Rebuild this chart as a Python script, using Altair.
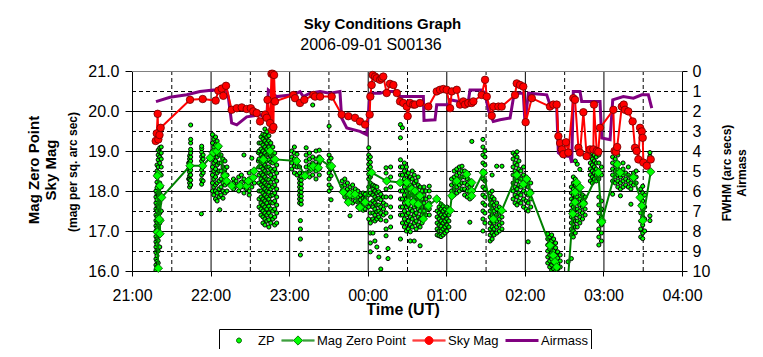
import altair as alt
import pandas as pd

FONT = "Liberation Sans"

# ---------------- data: time in minutes after 21:00 UT ----------------
# Sky Mag (mag per sq. arc sec), read off the red series
sky_pts = [
    (18.1, 19.25), (18.9, 19.44), (19.6, 19.93), (20.1, 19.29), (21.0, 19.40), (21.9, 19.58),
    (44.3, 20.28), (54.0, 20.30), (63.9, 20.26), (65.9, 20.51), (68.5, 20.56), (69.7, 20.38),
    (71.8, 20.63), (76.1, 20.03), (80.0, 20.07), (83.8, 20.09), (87.6, 20.05), (90.7, 20.07),
    (92.6, 19.99), (95.2, 19.95), (97.8, 19.74), (101.6, 19.91), (102.9, 19.83), (103.5, 20.28),
    (105.4, 19.70), (106.5, 20.93), (107.0, 19.53), (107.5, 20.93), (108.0, 19.60), (108.5, 20.90),
    (109.2, 20.24), (123.2, 20.40), (124.5, 20.32), (128.3, 20.20), (131.6, 20.28), (138.5, 20.40),
    (139.8, 20.36), (143.6, 20.36), (152.5, 20.36), (160.1, 19.91), (165.2, 19.87), (170.3, 19.83),
    (174.1, 19.74), (178.0, 19.66), (181.5, 19.91), (182.0, 20.36), (183.0, 20.65), (183.8, 20.90),
    (185.6, 20.86), (186.9, 20.82), (189.4, 20.78), (190.7, 20.82), (191.9, 20.86), (194.5, 20.45),
    (197.0, 20.68), (199.6, 20.65), (202.2, 20.45), (204.7, 20.24), (207.2, 20.20), (209.8, 20.11),
    (210.5, 19.87), (212.3, 20.20), (214.8, 20.16), (216.1, 20.16), (219.9, 20.20), (226.3, 20.11),
    (232.7, 20.49), (235.2, 20.53), (237.7, 20.55), (240.3, 20.53), (242.9, 20.07), (244.2, 20.49),
    (248.0, 20.53), (250.5, 20.16), (253.0, 20.24), (254.3, 20.16), (256.8, 20.20), (259.4, 20.20),
    (260.7, 20.24), (267.0, 20.40), (269.6, 20.78), (270.9, 20.36), (274.7, 19.88), (276.0, 20.11),
    (279.8, 20.11), (282.3, 20.11), (292.5, 20.40), (293.8, 20.69), (296.3, 20.65), (298.8, 20.61),
    (300.6, 19.72), (305.3, 20.32), (319.2, 20.11), (321.7, 20.16), (324.3, 20.16), (325.6, 19.37),
    (326.9, 19.20), (328.2, 19.04), (329.4, 18.92), (331.4, 19.22), (333.2, 18.96), (337.0, 20.32),
    (338.3, 20.28), (340.9, 19.08), (342.1, 18.96), (344.7, 19.97), (347.2, 18.87), (349.8, 19.04),
    (352.3, 19.04), (352.8, 20.16), (354.9, 19.00), (356.1, 18.98), (357.4, 19.58), (367.6, 20.03),
    (368.5, 19.00), (369.5, 18.98), (370.5, 19.10), (374.0, 20.11), (375.5, 20.16), (376.5, 20.03),
    (379.0, 19.99), (382.3, 19.74), (384.1, 19.08), (385.4, 19.00), (386.7, 18.79), (388.0, 19.58),
    (389.3, 19.49), (390.0, 19.33), (390.5, 18.71), (393.1, 18.63), (396.1, 18.79),
]

# Mag Zero Point (green line with diamonds)
mzp_pts = [
    (18.9, 15.90), (20.1, 16.07), (19.3, 16.97), (20.1, 18.42), (19.3, 18.38), (21.4, 18.13),
    (21.4, 17.26), (21.4, 16.93), (20.8, 17.30), (22.7, 17.84), (44.3, 18.63), (54.0, 18.63),
    (59.6, 18.83), (62.1, 18.96), (64.7, 19.00), (65.9, 19.12), (71.0, 18.38), (72.3, 18.25),
    (76.1, 18.13), (82.5, 18.13), (87.6, 18.13), (88.8, 18.25), (92.6, 18.34), (93.2, 18.50),
    (100.3, 18.79), (105.4, 19.00), (109.2, 18.79), (125.8, 18.75), (132.1, 18.38), (137.2, 18.59),
    (138.5, 18.62), (142.3, 18.58), (143.6, 18.79), (151.2, 18.62), (152.5, 18.62), (161.4, 17.97),
    (165.2, 17.72), (166.5, 17.92), (170.3, 17.92), (174.1, 17.59), (178.0, 17.72), (183.0, 18.46),
    (194.5, 18.25), (204.7, 18.21), (209.8, 18.21), (211.0, 17.72), (213.6, 18.05), (214.8, 17.72),
    (216.1, 18.00), (218.6, 17.67), (219.9, 17.88), (222.5, 17.30), (226.3, 17.63), (232.7, 17.80),
    (242.9, 17.51), (244.2, 17.88), (248.0, 18.25), (255.6, 18.42), (259.4, 18.21), (259.4, 18.00),
    (259.4, 17.88), (268.3, 18.46), (275.9, 17.30), (282.3, 17.51), (293.8, 18.40), (298.8, 18.17),
    (301.4, 18.30), (304.0, 17.95), (319.2, 16.64), (321.7, 16.39), (323.0, 16.23), (324.3, 16.10),
    (330.0, 14.50), (336.6, 17.43), (338.3, 17.72), (338.3, 17.97), (339.6, 18.21), (342.1, 18.09),
    (344.7, 17.68), (356.1, 18.46), (358.7, 17.26), (358.7, 17.22), (370.6, 18.67), (372.7, 18.46),
    (382.9, 18.34), (388.0, 17.84), (389.3, 17.63), (390.0, 17.26), (396.1, 18.48),
]

# Airmass (purple line, right axis)
air_pts = [
    (18.3, 1.53), (29.0, 1.31), (41.8, 1.19), (51.9, 1.03), (62.1, 0.95), (72.3, 0.98), (73.5, 1.28),
    (76.1, 2.60), (80.0, 2.69), (87.6, 2.29), (97.8, 2.19), (102.9, 2.35), (104.1, 0.95), (110.5, 1.28),
    (123.2, 1.19), (128.3, 1.03), (130.8, 1.28), (135.9, 1.11), (143.6, 1.03), (151.2, 1.11),
    (158.8, 1.03), (160.1, 2.35), (164.0, 2.85), (174.1, 3.02), (179.2, 3.18), (181.8, 1.11),
    (189.4, 1.11), (194.5, 1.03), (202.2, 1.03), (204.7, 1.28), (222.5, 1.28), (223.0, 2.47),
    (231.4, 2.44), (232.7, 1.69), (241.6, 1.69), (242.9, 1.44), (250.5, 1.54), (256.8, 1.53),
    (258.1, 0.95), (267.1, 0.95), (269.6, 1.11), (272.1, 1.94), (275.9, 2.52), (281.0, 2.44),
    (288.7, 2.35), (291.2, 1.36), (293.8, 1.11), (298.8, 1.11), (300.1, 2.60), (302.7, 1.11),
    (316.7, 1.19), (319.2, 1.69), (324.3, 1.78), (325.6, 4.09), (328.2, 4.23), (334.5, 4.28),
    (335.8, 4.59), (337.0, 1.03), (342.1, 1.03), (343.4, 1.53), (357.4, 1.53), (358.7, 3.35),
    (365.1, 3.43), (367.1, 1.44), (375.2, 1.28), (382.9, 1.36), (389.3, 1.19), (394.3, 1.19),
    (396.9, 1.86),
]

# ZP individual measurements: (minute, [mags])
zp_cols = [
    (18.3, [16.02, 16.15, 16.3, 16.46, 16.6, 16.73, 16.86, 17.0, 17.13, 17.26, 17.4, 17.55, 17.7, 17.85, 18.0]),
    (19.1, [16.1, 16.24, 16.38, 16.52, 16.67, 16.8, 16.95, 17.08, 17.21, 17.35, 17.5, 17.63, 17.78, 17.93, 18.08, 18.22, 18.35, 18.5, 18.65]),
    (20.0, [16.2, 16.5, 16.76, 17.02, 17.3, 17.6, 17.9, 18.15, 18.4, 18.6, 18.78, 18.9, 19.02]),
    (21.2, [16.6, 16.9, 17.2, 17.45, 17.7, 17.95, 18.2, 18.45, 18.7, 18.85, 18.97, 19.08]),
    (22.3, [17.5, 17.8, 18.1, 18.4, 18.6, 18.8, 18.95, 19.1]),
    (43.3, [18.3, 18.55, 18.7]),
    (44.0, [18.1, 18.2, 18.3, 18.38, 18.47, 18.56, 18.64, 18.72, 18.8, 18.88]),
    (44.8, [18.15, 18.27, 18.4, 18.52, 18.63, 18.75, 18.85, 18.95, 19.04, 19.2, 19.29, 19.65]),
    (53.0, [17.43]),
    (53.2, [18.17, 18.28, 18.4, 18.52, 18.63, 18.75, 18.86, 18.97, 19.06, 19.12]),
    (54.3, [18.25, 18.45, 18.6, 18.8, 18.9]),
    (61.5, [18.0, 18.2, 18.4, 18.6, 18.8, 19.0, 19.2, 19.41]),
    (62.5, [17.9, 18.1, 18.3, 18.5, 18.7, 18.9, 19.1, 19.3]),
    (63.8, [17.8, 18.0, 18.15, 18.35, 18.55, 18.75, 18.95, 19.15, 19.35]),
    (65.0, [17.75, 17.95, 18.2, 18.45, 18.65, 18.85, 19.05, 19.25]),
    (66.5, [17.85, 18.05, 18.25, 18.5, 18.7, 18.9, 19.1]),
    (67.0, [17.53]),
    (68.0, [17.9, 18.1, 18.3, 18.5, 18.7, 18.9]),
    (69.5, [17.82, 18.0, 18.2, 18.4, 18.6, 18.8]),
    (71.0, [17.95, 18.15, 18.35, 18.55, 18.75]),
    (72.5, [18.0, 18.2, 18.4, 18.6]),
    (77.5, [18.05, 18.2, 18.3]),
    (79.5, [18.12, 18.25]),
    (81.5, [18.0, 18.15, 18.35]),
    (83.5, [18.1, 18.22, 18.4]),
    (85.5, [17.95, 18.1, 18.3, 18.9]),
    (87.5, [18.05, 18.2]),
    (89.5, [17.9, 18.0, 18.15, 18.3, 18.45]),
    (91.5, [18.1, 18.25, 18.82]),
    (93.5, [18.2, 18.35]),
    (96.5, [18.75, 18.96]),
    (97.0, [17.6, 17.8, 18.0, 18.2, 18.4, 18.6, 18.8, 19.0, 19.2]),
    (98.5, [17.4, 17.55, 17.7, 17.85, 18.0, 18.15, 18.3, 18.45, 18.6, 18.75, 18.9, 19.05, 19.2, 19.35]),
    (100.0, [17.2, 17.35, 17.5, 17.65, 17.8, 17.95, 18.1, 18.25, 18.4, 18.55, 18.7, 18.85, 19.0, 19.15, 19.3, 19.42]),
    (101.5, [17.15, 17.3, 17.45, 17.6, 17.75, 17.9, 18.05, 18.2, 18.35, 18.5, 18.65, 18.8, 18.95, 19.1, 19.25, 19.4, 19.55]),
    (103.0, [17.25, 17.4, 17.55, 17.7, 17.85, 18.0, 18.15, 18.3, 18.45, 18.6, 18.75, 18.9, 19.05, 19.2, 19.35, 19.48]),
    (104.5, [17.1, 17.28, 17.45, 17.62, 17.8, 17.97, 18.12, 18.28, 18.45, 18.6, 18.78, 18.93, 19.1, 19.25, 19.38]),
    (106.0, [17.2, 17.38, 17.55, 17.72, 17.88, 18.05, 18.22, 18.4, 18.55, 18.72, 18.88, 19.05, 19.2]),
    (107.5, [17.3, 17.5, 17.7, 17.9, 18.1, 18.3, 18.5, 18.7, 18.9, 19.1]),
    (109.0, [17.15, 17.35, 17.55, 17.75, 17.95, 18.15, 18.35, 18.55, 18.75, 18.95]),
    (110.5, [17.2, 17.45, 17.65, 17.85, 18.05, 18.25, 18.45, 18.65]),
    (122.0, [18.55, 18.7, 18.85, 19.0]),
    (124.0, [18.45, 18.62, 18.8, 18.95, 19.1]),
    (126.0, [18.4, 18.6, 18.78, 18.92]),
    (128.0, [17.7, 17.8, 17.9, 18.0, 18.1, 18.2, 18.3, 18.45, 18.6]),
    (128.6, [17.26, 17.05, 16.8, 16.4]),
    (129.2, [17.67, 17.77, 17.87, 17.97, 18.07, 18.17, 18.27, 18.37]),
    (133.0, [18.45, 18.6, 18.75, 18.9, 19.08]),
    (135.5, [18.35, 18.5, 18.65, 18.8, 18.95]),
    (138.0, [18.4, 18.55, 18.7, 18.85, 20.15]),
    (140.5, [18.3, 18.5, 18.65, 18.8, 19.0]),
    (143.0, [18.4, 18.55, 18.7, 18.85, 19.02]),
    (150.5, [18.0, 18.15, 18.3, 18.45, 18.6, 18.75, 18.9, 19.62]),
    (152.0, [17.78, 18.08, 18.38, 18.55, 18.82]),
    (160.5, [18.0, 18.12, 18.25]),
    (162.5, [17.85, 18.0, 18.15, 18.3]),
    (164.5, [17.75, 17.9, 18.05, 18.2]),
    (166.5, [17.38, 17.8, 17.95, 18.1]),
    (168.5, [17.7, 17.85, 18.0, 18.15]),
    (170.5, [17.75, 17.9, 18.05]),
    (172.5, [17.6, 17.72, 17.85, 18.0]),
    (174.5, [17.55, 17.65, 17.78, 17.9]),
    (176.5, [17.52, 17.62, 17.72, 17.82, 17.95]),
    (178.0, [17.55, 17.68, 17.8, 17.92]),
    (180.8, [17.3, 17.6, 17.9, 18.1, 18.3, 18.42, 18.55, 18.67, 18.8, 18.9, 19.08]),
    (182.0, [16.48, 16.7, 16.95, 17.2, 17.45, 17.7, 17.95, 18.2, 18.35, 18.48, 18.6, 18.72, 18.85]),
    (184.0, [16.95, 17.3, 17.45, 17.6, 17.75, 17.9, 18.05, 18.15]),
    (185.5, [16.75, 17.25, 17.4, 17.55, 17.7, 17.85, 18.0, 18.12]),
    (187.0, [16.6, 17.3, 17.48, 17.65, 17.8, 17.95, 18.1]),
    (188.5, [16.35, 17.35, 17.5, 17.65, 17.82, 17.98]),
    (190.0, [16.05, 17.28, 17.45, 17.6, 17.78, 17.92]),
    (192.0, [17.4, 17.55, 17.7, 17.85]),
    (194.0, [16.88, 17.05, 17.25, 17.45, 17.65, 17.85, 18.05, 18.25, 18.45, 18.58]),
    (195.5, [16.31, 16.56]),
    (197.5, [17.1, 17.35, 17.6, 17.85, 18.1, 18.35, 18.6]),
    (205.0, [16.8, 17.4, 17.6, 17.8, 18.0, 18.2, 18.4, 18.6, 18.78, 19.33, 19.66]),
    (206.5, [17.2, 17.4, 17.6, 17.8, 18.0, 18.2, 18.4, 18.6, 19.58]),
    (208.0, [17.1, 17.3, 17.5, 17.7, 17.9, 18.1, 18.3, 18.5, 18.7]),
    (209.5, [17.0, 17.2, 17.4, 17.6, 17.8, 18.0, 18.2, 18.4, 18.6]),
    (211.0, [17.05, 17.25, 17.45, 17.65, 17.85, 18.05, 18.25, 18.45]),
    (212.5, [16.75, 16.98, 17.15, 17.35, 17.55, 17.75, 17.95, 18.15, 18.35]),
    (214.0, [17.1, 17.3, 17.5, 17.7, 17.9, 18.1, 18.3, 18.5]),
    (215.5, [16.75, 17.2, 17.4, 17.6, 17.8, 18.0, 18.2, 18.4]),
    (217.0, [17.05, 17.25, 17.45, 17.65, 17.85, 18.05, 18.25]),
    (218.5, [17.15, 17.35, 17.55, 17.75, 17.95, 18.15, 18.35]),
    (220.0, [16.63, 17.1, 17.3, 17.5, 17.7, 17.9, 18.1]),
    (221.5, [17.2, 17.4, 17.6, 17.8, 18.0]),
    (223.0, [17.3, 17.5, 17.7, 17.9, 18.1]),
    (224.5, [17.4, 17.6, 17.8, 18.0]),
    (227.0, [17.4, 17.55, 17.7, 17.85, 18.0, 18.12]),
    (233.0, [16.9, 17.05, 17.2, 17.35, 17.5]),
    (234.5, [16.88, 17.0, 17.15, 17.3, 17.45, 17.6]),
    (236.0, [16.86, 17.0, 17.12, 17.25, 17.4, 17.55, 17.67]),
    (237.5, [16.9, 17.05, 17.2, 17.35, 17.5, 17.62]),
    (239.0, [16.95, 17.1, 17.25, 17.4, 17.55]),
    (240.5, [17.0, 17.15, 17.3, 17.45, 17.6]),
    (242.0, [17.1, 17.25, 17.4, 17.55]),
    (244.0, [17.85, 18.0, 18.15, 18.3]),
    (246.0, [17.9, 18.05, 18.2, 18.35, 18.5]),
    (248.0, [17.95, 18.1, 18.25, 18.4, 18.55]),
    (250.0, [18.0, 18.15, 18.3, 18.45, 18.6]),
    (252.0, [18.05, 18.2, 18.35, 18.5, 18.62]),
    (254.0, [17.9, 18.05, 18.2, 18.35, 18.5]),
    (256.0, [17.85, 18.0, 18.15, 18.3, 18.45]),
    (258.0, [17.22, 17.8, 17.95, 18.1, 18.25]),
    (259.5, [17.85, 18.0, 18.15, 19.24]),
    (268.0, [17.0, 17.3, 17.5, 17.7, 17.9, 18.1, 18.3, 18.5, 18.7, 18.9, 19.1, 19.29]),
    (269.5, [17.2, 17.45, 17.65, 17.85, 18.05, 18.25, 18.45, 18.65, 18.85, 19.0]),
    (273.5, [16.75, 16.9, 17.05, 17.2, 17.35, 17.5, 17.65, 17.8, 17.95]),
    (275.0, [16.8, 16.95, 17.1, 17.25, 17.4, 17.55, 17.7, 17.85, 18.0, 18.4]),
    (276.5, [16.9, 17.05, 17.2, 17.35, 17.5, 17.65, 17.8]),
    (278.5, [16.95, 17.1, 17.25, 17.4, 17.55, 17.7, 18.62]),
    (280.5, [17.0, 17.15, 17.3, 17.45, 17.6]),
    (282.5, [17.05, 17.2, 17.35, 17.5, 18.62]),
    (291.0, [17.8, 18.0, 18.2, 18.4, 18.6, 18.8, 18.95]),
    (292.5, [17.7, 17.9, 18.1, 18.3, 18.5, 18.7, 18.9]),
    (294.0, [17.65, 17.85, 18.05, 18.25, 18.45, 18.65, 18.85, 18.98]),
    (295.5, [17.75, 17.95, 18.15, 18.35, 18.55, 18.75]),
    (297.0, [17.7, 17.9, 18.1, 18.3, 18.5]),
    (299.0, [17.6, 17.8, 18.0, 18.2, 18.4, 18.6]),
    (301.0, [17.55, 17.75, 17.95, 18.15, 18.35]),
    (302.5, [16.73, 17.5, 17.7, 17.9, 18.1, 18.3]),
    (304.5, [17.6, 17.8, 18.0, 18.2]),
    (317.5, [16.2, 16.35, 16.5, 16.65, 16.8, 16.93]),
    (319.0, [16.1, 16.25, 16.4, 16.55, 16.7, 16.85]),
    (320.5, [16.02, 16.15, 16.3, 16.45, 16.6, 16.75, 16.9]),
    (322.0, [16.05, 16.2, 16.35, 16.5, 16.65, 16.8]),
    (323.5, [16.0, 16.12, 16.28, 16.42, 16.58, 16.7]),
    (325.0, [16.05, 16.18, 16.32, 16.48]),
    (327.0, [16.1, 16.25, 16.4]),
    (333.0, [16.23]),
    (335.5, [16.31, 16.9, 17.05, 17.2, 17.35, 17.5, 17.65, 17.8, 17.95, 18.1]),
    (337.0, [16.85, 17.0, 17.15, 17.3, 17.45, 17.6, 17.75, 17.9, 18.05, 18.2, 18.35]),
    (338.5, [16.95, 17.1, 17.25, 17.4, 17.55, 17.7, 17.85, 18.0, 18.15, 18.3, 18.75]),
    (340.0, [17.1, 17.25, 17.4, 17.55, 17.7, 17.85, 18.0, 18.15, 18.67]),
    (342.0, [17.2, 17.35, 17.5, 17.65, 17.8, 17.95, 18.1, 18.54]),
    (344.0, [17.3, 17.45, 17.6, 17.75, 17.9]),
    (346.0, [17.4, 17.55, 17.7, 17.85]),
    (350.0, [18.25, 18.4, 18.55, 18.7, 18.85, 19.0]),
    (351.5, [18.2, 18.35, 18.5, 18.65, 18.8, 18.95]),
    (353.0, [18.3, 18.45, 18.6, 18.75, 18.9, 19.04]),
    (354.5, [18.25, 18.4, 18.55, 18.7, 18.85]),
    (356.5, [16.65, 16.85, 17.05, 17.25, 17.45, 17.65, 17.85, 18.3, 18.5, 18.7, 18.9]),
    (358.5, [16.75, 16.95, 17.15, 17.35, 17.55, 17.75, 18.4, 18.6]),
    (367.0, [17.92, 18.25, 18.4, 18.55, 18.7, 18.85]),
    (369.0, [18.2, 18.35, 18.5, 18.65, 18.8]),
    (371.0, [18.1, 18.25, 18.4, 18.55, 18.7, 18.9]),
    (373.0, [17.88, 18.05, 18.2, 18.35, 18.5]),
    (375.0, [18.1, 18.25, 18.4, 18.55, 18.7]),
    (377.0, [18.15, 18.3, 18.45]),
    (379.0, [18.1, 18.25, 18.4, 18.6]),
    (381.0, [17.67, 18.05, 18.2, 18.35]),
    (383.0, [18.15, 18.3, 18.45]),
    (385.0, [18.2, 18.35, 18.5]),
    (388.5, [16.85, 17.05, 17.25, 17.45, 17.65, 17.85, 18.05]),
    (390.0, [16.81, 16.95, 17.15, 17.35, 17.55, 17.75, 17.95, 18.12]),
    (391.5, [17.0, 17.3, 17.6, 17.9]),
    (395.5, [17.26, 17.38, 18.87, 18.96]),
]

hour_ticks = [0, 60, 120, 180, 240, 300, 360, 420]
grid_major_x = [60, 120, 180, 240, 300, 360]
grid_minor_x = [30, 90, 150, 210, 270, 330, 390]
grid_major_y = [17, 18, 19, 20]
grid_minor_y = [16.5, 17.5, 18.5, 19.5, 20.5]
grid_top_y = [21]
mag_ticks = [16, 17, 18, 19, 20, 21]
right_ticks = [0, 1, 2, 3, 4, 5, 6, 7, 8, 9, 10]
series_names = ["ZP", "Mag Zero Point", "Sky Mag", "Airmass"]

title_text = "Sky Conditions Graph"
subtitle_text = "2006-09-01 S00136"
x_title = "Time (UT)"
left_titles = ["Mag Zero Point", "Sky Mag", "(mag per sq. arc sec)"]
right_titles = ["FWHM (arc secs)", "Airmass"]

# ---------------- frames ----------------
def pairs_df(pairs):
    return pd.DataFrame({"m": [p[0] for p in pairs], "v": [p[1] for p in pairs],
                         "i": list(range(len(pairs)))})

sky_df = pairs_df(sky_pts)
mzp_df = pairs_df(mzp_pts)
air_df = pairs_df(air_pts)
zp_df = pd.DataFrame([(m, v) for m, vs in zp_cols for v in vs], columns=["m", "v"])

# ---------------- scales / axes ----------------
x_scale = alt.Scale(domain=[0, 420], nice=False, zero=False)
x_axis = alt.Axis(values=hour_ticks,
                  labelExpr="format((21 + datum.value / 60) % 24, '02d') + ':00'",
                  title=None, grid=False, tickSize=5, labelPadding=11, labelFlush=False)
mag_scale = alt.Scale(domain=[16, 21], nice=False, zero=False)
mag_axis = alt.Axis(orient="left", values=mag_ticks, format=".1f", title=None, grid=False,
                    tickSize=7, labelPadding=6)
air_scale = alt.Scale(domain=[0, 10], nice=False, zero=False, reverse=True)
air_axis = alt.Axis(orient="right", values=right_ticks, format="d", title=None, grid=False,
                    tickSize=5, labelPadding=5)


def X():
    return alt.X("m:Q", scale=x_scale, axis=x_axis)


def Ymag(axis=mag_axis):
    return alt.Y("v:Q", scale=mag_scale, axis=axis)


# ---------------- grid ----------------
vmin = alt.Chart(pd.DataFrame({"m": grid_minor_x})).mark_rule(
    color="black", strokeWidth=1, strokeDash=[4, 3], xOffset=0.5).encode(x=X())
vmaj = alt.Chart(pd.DataFrame({"m": grid_major_x})).mark_rule(
    color="black", strokeWidth=1, xOffset=0.5).encode(x=X())
hmin = alt.Chart(pd.DataFrame({"v": grid_minor_y})).mark_rule(
    color="black", strokeWidth=1, strokeDash=[4, 3], yOffset=0.5).encode(y=Ymag())
hmaj = alt.Chart(pd.DataFrame({"v": grid_major_y})).mark_rule(
    color="black", strokeWidth=1, yOffset=0.5).encode(y=Ymag())
htop = alt.Chart(pd.DataFrame({"v": grid_top_y})).mark_rule(
    color="#808080", strokeWidth=1, yOffset=0.5).encode(y=Ymag())

# ---------------- series ----------------
zp = alt.Chart(zp_df).mark_circle(
    size=17, color="#00FF00", stroke="black", strokeWidth=1, opacity=1, clip=True
).encode(x=X(), y=Ymag())

mzp_line = alt.Chart(mzp_df).mark_line(color="#008000", strokeWidth=2, clip=True).encode(
    x=X(), y=Ymag(), order="i:Q")
mzp_mark = alt.Chart(mzp_df).transform_filter("datum.v >= 16").mark_point(
    shape="diamond", filled=True, size=72, fill="#00FF00", stroke="#005000",
    strokeWidth=0.8, opacity=1).encode(x=X(), y=Ymag())

sky_line = alt.Chart(sky_df).mark_line(color="#FF0000", strokeWidth=2).encode(
    x=X(), y=Ymag(axis=None), order="i:Q")
sky_mark = alt.Chart(sky_df).mark_circle(
    size=56, color="#FF0000", stroke="#700000", strokeWidth=0.8, opacity=1
).encode(x=X(), y=Ymag(axis=None))

air_line = alt.Chart(air_df).mark_line(color="#800080", strokeWidth=3).encode(
    x=X(), y=alt.Y("v:Q", scale=air_scale, axis=air_axis), order="i:Q")

# ---------------- legend ----------------
legend_paths = [
    "M-0.15,0A0.15,0.15,0,1,0,0.15,0A0.15,0.15,0,1,0,-0.15,0Z",
    "M-1,-0.03H-0.28M0.28,-0.03H1M-1,0.03H-0.28M0.28,0.03H1M0,-0.28L0.28,0L0,0.28L-0.28,0Z",
    "M-1,-0.03H1M-1,0.03H1M-0.24,0A0.24,0.24,0,1,0,0.24,0A0.24,0.24,0,1,0,-0.24,0Z",
    "M-1,-0.06H1M-1,0H1M-1,0.06H1",
]
legend_fill = ["#00FF00", "#00FF00", "#FF0000", "#800080"]
legend_stroke = ["#006000", "#008000", "#FF0000", "#800080"]

leg = alt.Legend(title=None, orient="none", legendX=87, legendY=258, direction="horizontal",
                 padding=3, labelOffset=2, columnPadding=6, symbolSize=1089,
                 symbolStrokeWidth=1, clipHeight=17, labelFont=FONT, labelFontSize=13,
                 labelColor="black", strokeColor="black", fillColor="white", symbolOpacity=1)

legend_layer = alt.Chart(pd.DataFrame({"series": series_names})).mark_point(
    filled=True, opacity=0).encode(
    shape=alt.Shape("series:N", scale=alt.Scale(domain=series_names, range=legend_paths), legend=leg),
    fill=alt.Fill("series:N", scale=alt.Scale(domain=series_names, range=legend_fill), legend=leg),
    stroke=alt.Stroke("series:N", scale=alt.Scale(domain=series_names, range=legend_stroke), legend=leg),
)


# ---------------- text ----------------
def label(text, x, y, size, weight="bold", angle=0, baseline="middle"):
    return alt.Chart(pd.DataFrame({"t": [text]})).mark_text(
        font=FONT, fontSize=size, fontWeight=weight, angle=angle, align="center",
        baseline=baseline, color="black").encode(
        x=alt.value(x), y=alt.value(y), text="t:N")


texts = [
    label(title_text, 250.5, -42, 15, baseline="alphabetic"),
    label(subtitle_text, 239, -21.5, 16, weight="normal", baseline="alphabetic"),
    label(x_title, 271, 244, 16, baseline="alphabetic"),
    label(left_titles[0], -98, 99, 15, angle=270),
    label(left_titles[1], -81, 99, 15, angle=270),
    label(left_titles[2], -59, 101, 12, angle=270),
    label(right_titles[0], 594.5, 102, 12, angle=270),
    label(right_titles[1], 609.5, 102, 12, angle=270),
]

inner = alt.layer(vmin, hmin, vmaj, hmaj, htop, zp, mzp_line, mzp_mark, legend_layer)
sky = alt.layer(sky_line, sky_mark)

chart = alt.layer(inner, air_line, sky, *texts).resolve_scale(y="independent").properties(
    width=550, height=200,
    autosize=alt.AutoSizeParams(type="none"),
    padding={"left": 124, "top": 63, "right": 73, "bottom": 78},
).configure_view(fill="#C0C0C0", stroke="transparent", strokeWidth=0).configure_axis(
    labelFont=FONT, labelFontSize=16, labelColor="black", domainColor="black",
    tickColor="black", domainWidth=1, tickWidth=1)

chart.save("out.html", embed_options={"renderer": "svg", "actions": False})
